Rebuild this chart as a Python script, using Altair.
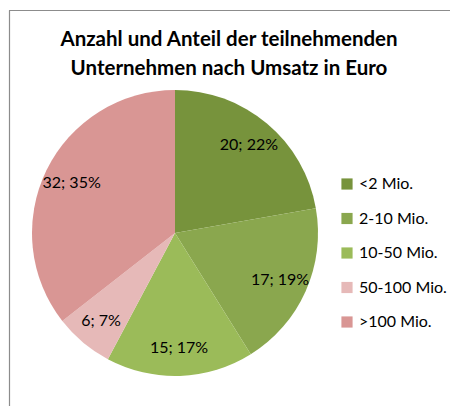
import altair as alt
import pandas as pd

categories = ["<2 Mio.", "2-10 Mio.", "10-50 Mio.", "50-100 Mio.", ">100 Mio."]
counts = [20, 17, 15, 6, 32]
percents = [22, 19, 17, 7, 35]
colors = ["#77933C", "#8AA74E", "#9BBB59", "#E6B9B8", "#D99694"]
title_lines = ["Anzahl und Anteil der teilnehmenden", "Unternehmen nach Umsatz in Euro"]

df = pd.DataFrame({
    "cat": categories,
    "count": counts,
    "idx": list(range(len(categories))),
    "label": [f"{c}; {p}%" for c, p in zip(counts, percents)],
})

W, H = 442, 398
CX, CY = 167, 225

color = alt.Color(
    "cat:N",
    scale=alt.Scale(domain=categories, range=colors),
    sort=categories,
    legend=alt.Legend(
        title=None, orient="none", legendX=331, legendY=168,
        symbolType="square", symbolSize=125, symbolStrokeWidth=0,
        labelFont="Lato", labelFontSize=16, labelColor="#000000",
        rowPadding=18.5, labelOffset=4, padding=0,
    ),
)

base = alt.Chart(df)
arcs = base.mark_arc(outerRadius=143).encode(
    theta=alt.Theta("count:Q", stack=True),
    color=color,
    order=alt.Order("idx:Q"),
    x=alt.value(CX), y=alt.value(CY),
)
labels = base.mark_text(radius=115, font="Lato", fontSize=16, color="#000000").encode(
    theta=alt.Theta("count:Q", stack=True),
    text="label:N",
    order=alt.Order("idx:Q"),
    x=alt.value(CX), y=alt.value(CY),
)

tdf = pd.DataFrame({"t": title_lines, "row": [0, 1]})
t1 = alt.Chart(tdf).transform_filter("datum.row == 0").mark_text(
    font="Lato", fontWeight="bold", fontSize=20.5, align="center", baseline="alphabetic", color="#000000"
).encode(text="t:N", x=alt.value(221), y=alt.value(38))
t2 = alt.Chart(tdf).transform_filter("datum.row == 1").mark_text(
    font="Lato", fontWeight="bold", fontSize=20.5, align="center", baseline="alphabetic", color="#000000"
).encode(text="t:N", x=alt.value(221), y=alt.value(67))

border_top = alt.Chart(tdf).transform_filter("datum.row == 0").mark_rule(color="#8c8c8c", strokeWidth=1.2).encode(
    x=alt.value(1), x2=alt.value(460), y=alt.value(2.5))
border_left = alt.Chart(tdf).transform_filter("datum.row == 0").mark_rule(color="#8c8c8c", strokeWidth=1.2).encode(
    x=alt.value(1.5), y=alt.value(2.5), y2=alt.value(420))

chart = alt.layer(border_top, border_left, arcs, labels, t1, t2).properties(
    width=W, height=H, padding=0,
    autosize=alt.AutoSizeParams(type="none"),
).configure_view(stroke=None)

chart.save("out.html", embed_options={"renderer": "svg", "actions": False})
